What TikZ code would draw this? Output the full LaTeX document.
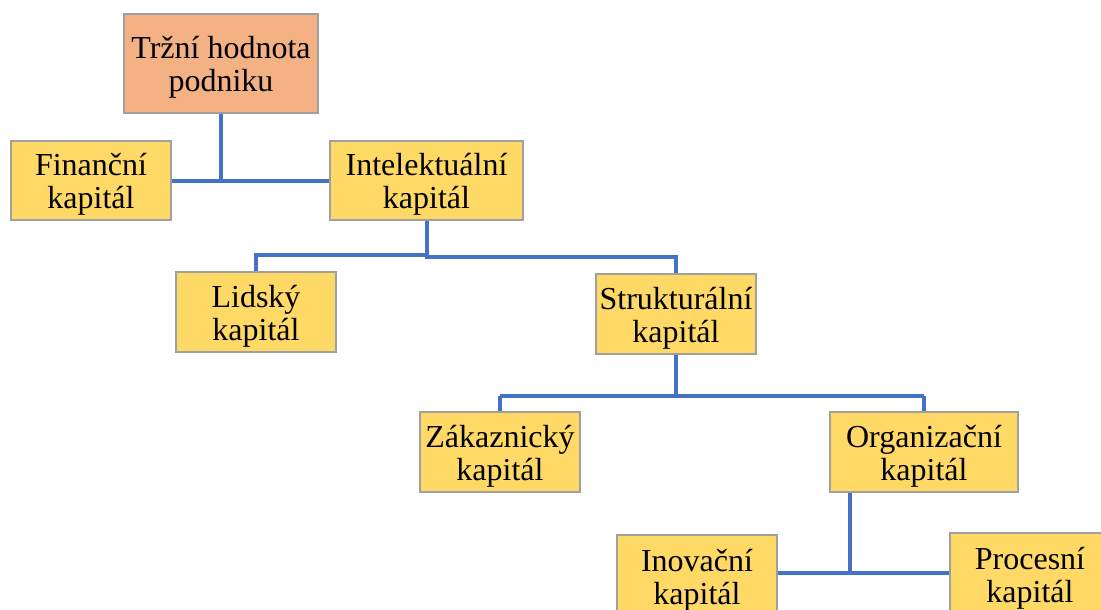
\documentclass[tikz,border=0pt]{standalone}
\usepackage{fontspec}
\setmainfont{Liberation Serif}
\definecolor{boxyellow}{HTML}{FFD966}
\definecolor{boxorange}{HTML}{F4B183}
\definecolor{linkblue}{HTML}{4472C4}
\definecolor{boxedge}{HTML}{A0A0A0}
\newcommand\twolines[2]{\rule{0pt}{31pt}#1\\#2\rule[-8pt]{0pt}{0pt}}
\begin{document}
\begin{tikzpicture}[x=1pt,y=-1pt,
  box/.style={draw=boxedge,line width=1.3pt,fill=boxyellow,
    align=center,inner sep=0pt,
    font=\fontsize{32}{33}\selectfont},
  link/.style={draw=linkblue,line width=3.2pt}]
\useasboundingbox (0,0) rectangle (1101,610);
\clip (0,0) rectangle (1101,610);
% nodes: centred in their boxes
\node[box,fill=boxorange,minimum width=194pt,minimum height=99pt] (trh) at (221,63.5) {\twolines{Tržní hodnota}{podniku}};
\node[box,minimum width=160pt,minimum height=79pt] (fin) at (91,180.5) {\twolines{Finanční}{kapitál}};
\node[box,minimum width=193pt,minimum height=79pt] (int) at (426.5,180.5) {\twolines{Intelektuální}{kapitál}};
\node[box,minimum width=160pt,minimum height=80pt] (lid) at (256,312) {\twolines{Lidský}{kapitál}};
\node[box,minimum width=160pt,minimum height=80pt] (str) at (676,314) {\twolines{Strukturální}{kapitál}};
\node[box,minimum width=160pt,minimum height=80pt] (zak) at (500,452) {\twolines{Zákaznický}{kapitál}};
\node[box,minimum width=188pt,minimum height=80pt] (org) at (924,452) {\twolines{Organizační}{kapitál}};
\node[box,minimum width=160pt,minimum height=82pt] (ino) at (697,576) {\twolines{Inovační}{kapitál}};
\node[box,minimum width=160pt,minimum height=82pt] (pro) at (1030,574) {\twolines{Procesní}{kapitál}};
% junction coordinates
\coordinate (j1) at (221,181);
\coordinate (j2a) at (427,255);
\coordinate (j2l) at (256,255);
\coordinate (j2r) at (676,257);
\coordinate (j3a) at (676,396);
\coordinate (j3l) at (500,396);
\coordinate (j3r) at (924,396);
\coordinate (j4) at (850,573);
% connectors
\draw[link] (trh.south) -- (j1);
\draw[link] (fin.east |- j1) -- (int.west |- j1);
\draw[link] (int.south -| j2a) -- (j2a) -- (j2l) -- (lid.north -| j2l);
\draw[link] (j2a) -- (427,257) -- (j2r) -- (str.north);
\draw[link] (str.south) -- (j3a);
\draw[link] (j3l) -- (j3r);
\draw[link] (j3l) -- (zak.north);
\draw[link] (j3r) -- (org.north);
\draw[link] (org.south -| j4) -- (j4);
\draw[link] (ino.east |- j4) -- (pro.west |- j4);
\end{tikzpicture}
\end{document}
